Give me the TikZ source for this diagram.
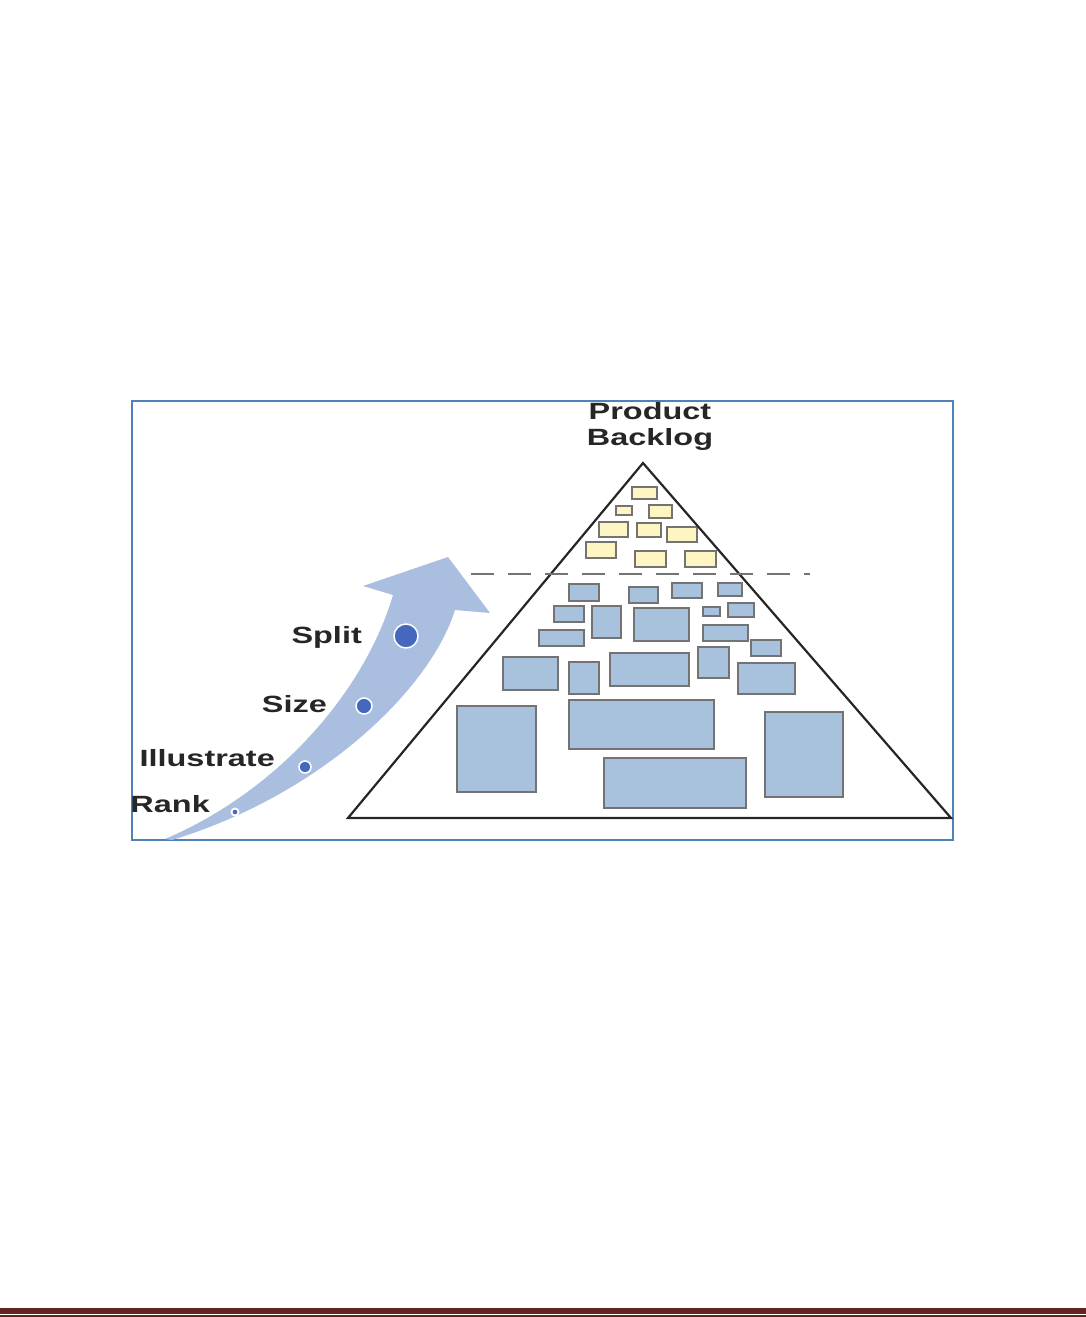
\documentclass[tikz,border=0pt]{standalone}
\usepackage{fontspec}
\setmainfont{Liberation Sans}
\definecolor{framebl}{HTML}{4F81BD}
\definecolor{arrowbl}{HTML}{AABFE0}
\definecolor{dotbl}{HTML}{4568BE}
\definecolor{boxbl}{HTML}{A8C2DD}
\definecolor{boxyl}{HTML}{FDF6C3}
\definecolor{rulered}{HTML}{622423}
\newcommand{\wtxt}[1]{\scalebox{1.38}[1]{#1}}
\tikzset{ frame/.style = { draw = framebl
                         , line width = 1.2pt
                         },
          pyr/.style   = { draw = black!85
                         , line width = 2.2pt
                         , line join = miter
                         },
          cut/.style   = { draw = black!55
                         , line width = 2.4pt
                         , dash pattern = on 23pt off 14pt
                         },
          bb/.style    = { draw = black!55
                         , fill = boxbl
                         , line width = 1.5pt
                         },
          yb/.style    = { bb
                         , fill = boxyl
                         },
          dot/.style   = { circle
                         , fill = dotbl
                         , draw = white
                         , line width = 1.5pt
                         , inner sep = 0pt
                         },
          lbl/.style   = { font = \fontsize{23.5}{28}\selectfont\bfseries
                         , text = black!85
                         , inner sep = 0pt
                         }
        }
\begin{document}
\begin{tikzpicture}[x=1pt, y=-1pt]
    \useasboundingbox (0,0) rectangle (1086,1317);
    % frame of the figure
    \draw[frame] (132,401) rectangle (953,840);

    % curved arrow
    \fill[arrowbl] (165,839) .. controls (280,790) and (365,690) .. (393,595)
        -- (363,586) -- (448,557) -- (490,613) -- (455,610)
        .. controls (430,690) and (320,795) .. (172,840) -- cycle;
    \node[dot, minimum size = 24pt] (dsplit) at (406,636) {};
    \node[dot, minimum size = 16pt] (dsize)  at (364,706) {};
    \node[dot, minimum size = 12pt] (dill)   at (305,767) {};
    \node[dot, minimum size = 7pt, line width = 1.8pt] (drank) at (235,812) {};
    \node[lbl, anchor = base east] (split) at (362,643) {\wtxt{Split}};
    \node[lbl, anchor = base east] (size)  at (327,712) {\wtxt{Size}};
    \node[lbl, anchor = base east] (ill)   at (275,766) {\wtxt{Illustrate}};
    \node[lbl, anchor = base east] (rank)  at (210,812) {\wtxt{Rank}};

    % pyramid
    \coordinate (apex)  at (643,463);
    \coordinate (left)  at (348,818);
    \coordinate (right) at (951,818);
    \node[lbl, anchor = base] (prod) at (650,419) {\wtxt{Product}};
    \node[lbl, anchor = base] (back) at (650,445) {\wtxt{Backlog}};

    % ready items
    \draw[yb] (632,487) rectangle (657,499);
    \draw[yb] (616,506) rectangle (632,515);
    \draw[yb] (649,505) rectangle (672,518);
    \draw[yb] (599,522) rectangle (628,537);
    \draw[yb] (637,523) rectangle (661,537);
    \draw[yb] (667,527) rectangle (697,542);
    \draw[yb] (586,542) rectangle (616,558);
    \draw[yb] (635,551) rectangle (666,567);
    \draw[yb] (685,551) rectangle (716,567);

    % other items
    \draw[bb] (569,584) rectangle (599,601);
    \draw[bb] (629,587) rectangle (658,603);
    \draw[bb] (672,583) rectangle (702,598);
    \draw[bb] (718,583) rectangle (742,596);
    \draw[bb] (554,606) rectangle (584,622);
    \draw[bb] (592,606) rectangle (621,638);
    \draw[bb] (634,608) rectangle (689,641);
    \draw[bb] (703,607) rectangle (720,616);
    \draw[bb] (728,603) rectangle (754,617);
    \draw[bb] (539,630) rectangle (584,646);
    \draw[bb] (703,625) rectangle (748,641);
    \draw[bb] (751,640) rectangle (781,656);
    \draw[bb] (503,657) rectangle (558,690);
    \draw[bb] (569,662) rectangle (599,694);
    \draw[bb] (610,653) rectangle (689,686);
    \draw[bb] (698,647) rectangle (729,678);
    \draw[bb] (738,663) rectangle (795,694);
    \draw[bb] (457,706) rectangle (536,792);
    \draw[bb] (569,700) rectangle (714,749);
    \draw[bb] (604,758) rectangle (746,808);
    \draw[bb] (765,712) rectangle (843,797);

    \draw[pyr] (apex) -- (right) -- (left) -- cycle;
    \coordinate (cutl) at (471,574);
    \coordinate (cutr) at (810,574);
    \draw[cut] (cutl) -- (cutr);

    % page rule
    \fill[rulered] (0,1308) rectangle (1086,1313.5);
    \fill[rulered] (0,1315) rectangle (1086,1317);
\end{tikzpicture}
\end{document}
